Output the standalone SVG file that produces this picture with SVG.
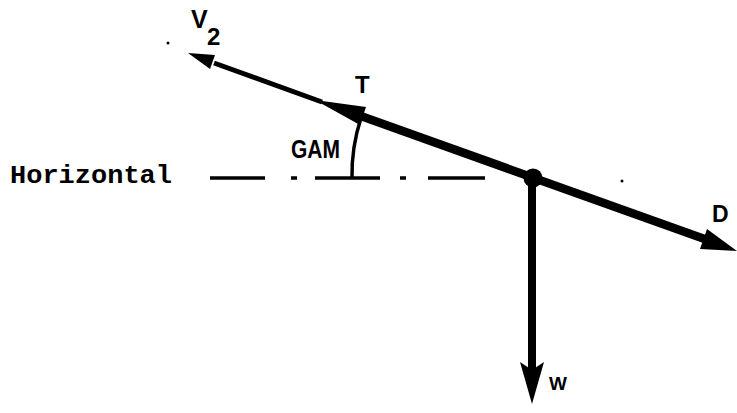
<svg xmlns="http://www.w3.org/2000/svg" width="737" height="413" viewBox="0 0 737 413">
<style>
.lbl{font-family:"Liberation Sans",Arial,sans-serif;font-weight:bold;fill:#000}
.mono{font-family:"Liberation Mono","Courier New",monospace;font-weight:bold;fill:#000}
.ln{stroke:#000;fill:none;stroke-linecap:butt}
.head{fill:#000;stroke:none}
</style>
<rect width="737" height="413" fill="#fff"/>
<g id="connectors">
  <!-- horizontal dash-dot reference line -->
  <g id="horizontal-line" class="ln" stroke-width="3.5">
    <line x1="210" y1="178" x2="265" y2="178"/>
    <line x1="291" y1="178" x2="297" y2="178"/>
    <line x1="315" y1="178" x2="380" y2="178"/>
    <line x1="400" y1="178" x2="406" y2="178"/>
    <line x1="428" y1="178" x2="485" y2="178"/>
  </g>
  <!-- GAM angle arc -->
  <path id="gam-arc" class="ln" stroke-width="3.5" d="M352 178 A181 181 0 0 1 361 118"/>
  <!-- V2 vector -->
  <g id="v2-arrow">
    <line class="ln" stroke-width="5" x1="214" y1="63" x2="322" y2="102"/>
    <polygon class="head" points="188,53 215,55 210,69"/>
  </g>
  <!-- T vector / flight path -->
  <g id="t-arrow">
    <line class="ln" stroke-width="8.5" x1="358" y1="115" x2="706" y2="239.5"/>
    <polygon class="head" points="315,100 366,107 360,125"/>
  </g>
  <!-- D vector -->
  <polygon id="d-head" class="head" points="737,251 700,249 707,229"/>
  <!-- W vector -->
  <g id="w-arrow">
    <line class="ln" stroke-width="8" x1="532" y1="178" x2="532" y2="372"/>
    <polygon class="head" points="520,362 532,370 544,362 532,404"/>
  </g>
</g>
<g id="body">
  <circle cx="533" cy="178" r="9.5" fill="#000"/>
</g>
<g id="label-v2">
  <text class="lbl" x="191" y="28" font-size="25">V</text>
  <text class="lbl" x="207" y="45" font-size="24">2</text>
</g>
<g id="label-t"><text class="lbl" x="355" y="93" font-size="24">T</text></g>
<g id="label-gam"><text class="lbl" x="291" y="158" font-size="25" textLength="49" lengthAdjust="spacingAndGlyphs">GAM</text></g>
<g id="label-horizontal"><text class="mono" x="10" y="183" font-size="26" textLength="162" lengthAdjust="spacingAndGlyphs">Horizontal</text></g>
<g id="label-d"><text class="lbl" x="712" y="222" font-size="23">D</text></g>
<g id="label-w"><text class="lbl" x="549" y="390" font-size="19">W</text></g>
<g id="specks">
  <circle cx="168" cy="43" r="1.5" fill="#000"/>
  <circle cx="622" cy="181" r="1.5" fill="#000"/>
</g>
</svg>
